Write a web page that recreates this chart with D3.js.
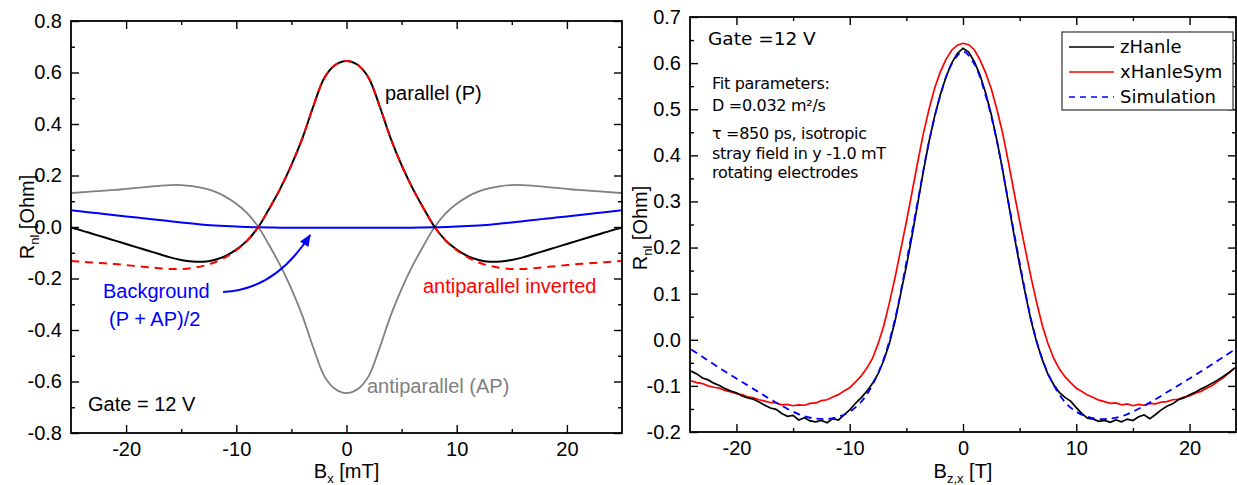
<!DOCTYPE html>
<html><head><meta charset="utf-8">
<script src="https://cdn.jsdelivr.net/npm/d3@7"></script>
<style>body{margin:0;background:#fff}</style>
</head><body>
<svg id="c" width="1237" height="485"></svg>
<script>
// ---------- Left panel data (B_x in mT) ----------
const leftB = [-25,-24,-23,-22,-21,-20,-19,-18,-17,-16,-15,-14,-13,-12,-11,-10,-9,-8,-7,-6,-5,-4,-3,-2,-1,0,1,2,3,4,5,6,7,8,9,10,11,12,13,14,15,16,17,18,19,20,21,22,23,24,25];
const parallelP = [-0.002,-0.014,-0.027,-0.040,-0.053,-0.066,-0.079,-0.092,-0.105,-0.118,-0.128,-0.134,-0.135,-0.128,-0.113,-0.088,-0.052,0.000,0.072,0.150,0.240,0.345,0.470,0.580,0.630,0.645,0.630,0.580,0.470,0.345,0.240,0.150,0.072,0.000,-0.052,-0.088,-0.113,-0.128,-0.135,-0.134,-0.128,-0.118,-0.105,-0.092,-0.079,-0.066,-0.053,-0.040,-0.027,-0.014,-0.002];
const antiparallelAP = [0.132,0.135,0.138,0.141,0.144,0.148,0.152,0.156,0.160,0.163,0.163,0.159,0.151,0.138,0.118,0.090,0.053,0.000,-0.072,-0.150,-0.240,-0.345,-0.470,-0.580,-0.630,-0.645,-0.630,-0.580,-0.470,-0.345,-0.240,-0.150,-0.072,0.000,0.053,0.090,0.118,0.138,0.151,0.159,0.163,0.163,0.160,0.156,0.152,0.148,0.144,0.141,0.138,0.135,0.132];
const antiparallelInverted = [-0.132,-0.135,-0.138,-0.141,-0.144,-0.148,-0.152,-0.156,-0.160,-0.163,-0.163,-0.159,-0.151,-0.138,-0.118,-0.090,-0.053,0.000,0.072,0.150,0.240,0.345,0.470,0.580,0.630,0.645,0.630,0.580,0.470,0.345,0.240,0.150,0.072,0.000,-0.053,-0.090,-0.118,-0.138,-0.151,-0.159,-0.163,-0.163,-0.160,-0.156,-0.152,-0.148,-0.144,-0.141,-0.138,-0.135,-0.132];
const background = [0.065,0.0605,0.0555,0.0505,0.0455,0.041,0.0365,0.032,0.0275,0.0225,0.0178,0.0132,0.0092,0.006,0.0035,0.0015,0.0002,-0.0012,-0.002,-0.0025,-0.003,-0.003,-0.003,-0.003,-0.003,-0.003,-0.003,-0.003,-0.003,-0.003,-0.003,-0.0025,-0.002,-0.0012,0.0002,0.0015,0.0035,0.006,0.0092,0.0132,0.0178,0.0225,0.0275,0.032,0.0365,0.041,0.0455,0.0505,0.0555,0.0605,0.065];
const leftXTicks = [-20,-10,0,10,20];
const leftXMinor = [-15,-5,5,15];
const leftYTicks = [-0.8,-0.6,-0.4,-0.2,0.0,0.2,0.4,0.6,0.8];
const leftYMinor = [-0.7,-0.5,-0.3,-0.1,0.1,0.3,0.5,0.7];

// ---------- Right panel data ----------
const rightB = [-24,-23.5,-23,-22.5,-22,-21.5,-21,-20.5,-20,-19.5,-19,-18.5,-18,-17.5,-17,-16.5,-16,-15.5,-15,-14.5,-14,-13.5,-13,-12.5,-12,-11.5,-11,-10.5,-10,-9.5,-9,-8.5,-8,-7.5,-7,-6.5,-6,-5.5,-5,-4.5,-4,-3.5,-3,-2.5,-2,-1.5,-1,-0.5,0,0.5,1,1.5,2,2.5,3,3.5,4,4.5,5,5.5,6,6.5,7,7.5,8,8.5,9,9.5,10,10.5,11,11.5,12,12.5,13,13.5,14,14.5,15,15.5,16,16.5,17,17.5,18,18.5,19,19.5,20,20.5,21,21.5,22,22.5,23,23.5,24];
const zHanle = [-0.068,-0.074,-0.083,-0.087,-0.094,-0.099,-0.106,-0.111,-0.115,-0.122,-0.126,-0.129,-0.135,-0.142,-0.148,-0.151,-0.160,-0.166,-0.164,-0.174,-0.169,-0.176,-0.178,-0.175,-0.180,-0.171,-0.174,-0.163,-0.152,-0.138,-0.126,-0.112,-0.095,-0.074,-0.045,-0.008,0.040,0.100,0.160,0.225,0.295,0.365,0.430,0.485,0.532,0.570,0.600,0.621,0.632,0.624,0.603,0.574,0.535,0.488,0.432,0.368,0.298,0.228,0.162,0.100,0.042,-0.005,-0.043,-0.075,-0.097,-0.114,-0.125,-0.133,-0.147,-0.160,-0.170,-0.172,-0.177,-0.175,-0.179,-0.174,-0.178,-0.172,-0.175,-0.167,-0.163,-0.171,-0.162,-0.152,-0.144,-0.139,-0.130,-0.126,-0.119,-0.114,-0.107,-0.101,-0.094,-0.087,-0.079,-0.071,-0.061];
const xHanleSym = [-0.089,-0.093,-0.095,-0.100,-0.103,-0.105,-0.110,-0.113,-0.117,-0.119,-0.124,-0.126,-0.130,-0.133,-0.136,-0.137,-0.141,-0.140,-0.143,-0.141,-0.142,-0.138,-0.137,-0.132,-0.130,-0.124,-0.119,-0.111,-0.104,-0.092,-0.079,-0.062,-0.041,-0.009,0.030,0.080,0.135,0.195,0.256,0.320,0.385,0.447,0.500,0.546,0.581,0.608,0.628,0.639,0.643,0.640,0.629,0.607,0.579,0.544,0.499,0.448,0.386,0.321,0.257,0.196,0.136,0.081,0.031,-0.008,-0.040,-0.063,-0.080,-0.093,-0.105,-0.112,-0.120,-0.125,-0.131,-0.134,-0.138,-0.137,-0.141,-0.139,-0.143,-0.140,-0.142,-0.138,-0.139,-0.135,-0.134,-0.130,-0.129,-0.124,-0.122,-0.116,-0.112,-0.105,-0.099,-0.090,-0.082,-0.071,-0.061];
const simB = [-24,-23,-22,-21,-20,-19,-18,-17,-16,-15,-14,-13,-12,-11,-10,-9,-8,-7,-6,-5,-4,-3,-2,-1,0,1,2,3,4,5,6,7,8,9,10,11,12,13,14,15,16,17,18,19,20,21,22,23,24];
const simulation = [-0.021,-0.037,-0.053,-0.069,-0.084,-0.099,-0.114,-0.129,-0.143,-0.156,-0.166,-0.171,-0.172,-0.167,-0.156,-0.135,-0.098,-0.042,0.045,0.168,0.300,0.430,0.530,0.598,0.625,0.598,0.530,0.430,0.300,0.168,0.045,-0.042,-0.098,-0.135,-0.156,-0.167,-0.172,-0.171,-0.166,-0.156,-0.143,-0.129,-0.114,-0.099,-0.084,-0.069,-0.053,-0.037,-0.021];
const rightXTicks = [-20,-10,0,10,20];
const rightXMinor = [-15,-5,5,15];
const rightYTicks = [-0.2,-0.1,0.0,0.1,0.2,0.3,0.4,0.5,0.6,0.7];
const rightYMinor = [-0.15,-0.05,0.05,0.15,0.25,0.35,0.45,0.55,0.65];
const legendLabels = ["zHanle","xHanleSym","Simulation"];

// ---------- drawing ----------
const svg = d3.select("#c");
svg.append("rect").attr("width",1237).attr("height",485).attr("fill","#fff");
const ARIAL = "'Liberation Sans', Arial, sans-serif";
const DEJAVU = "'DejaVu Sans', sans-serif";

function frame(g, x, y, xMaj, xMin, yMaj, yMin) {
  const [x0,x1] = x.range(), [y0,y1] = y.range();
  const style = sel => { sel.select(".domain").remove(); sel.selectAll("line").attr("stroke","#000").attr("stroke-width",1.4);
    sel.selectAll("text").attr("font-family",ARIAL).attr("font-size",20).attr("fill","#000"); };
  g.append("g").attr("transform",`translate(0,${y0})`).call(d3.axisBottom(x).tickValues(xMaj).tickSize(-8).tickPadding(9).tickFormat(d=>String(d))).call(style);
  g.append("g").attr("transform",`translate(0,${y0})`).call(d3.axisBottom(x).tickValues(xMin).tickSize(-4).tickFormat("")).call(style);
  g.append("g").attr("transform",`translate(0,${y1})`).call(d3.axisTop(x).tickValues(xMaj).tickSize(-8).tickFormat("")).call(style);
  g.append("g").attr("transform",`translate(0,${y1})`).call(d3.axisTop(x).tickValues(xMin).tickSize(-4).tickFormat("")).call(style);
  g.append("g").attr("transform",`translate(${x0},0)`).call(d3.axisLeft(y).tickValues(yMaj).tickSize(-8).tickPadding(9).tickFormat(d=>d.toFixed(1))).call(style);
  g.append("g").attr("transform",`translate(${x0},0)`).call(d3.axisLeft(y).tickValues(yMin).tickSize(-4).tickFormat("")).call(style);
  g.append("g").attr("transform",`translate(${x1},0)`).call(d3.axisRight(y).tickValues(yMaj).tickSize(-8).tickFormat("")).call(style);
  g.append("g").attr("transform",`translate(${x1},0)`).call(d3.axisRight(y).tickValues(yMin).tickSize(-4).tickFormat("")).call(style);
  g.append("rect").attr("x",x0).attr("y",y1).attr("width",x1-x0).attr("height",y0-y1)
    .attr("fill","none").attr("stroke","#000").attr("stroke-width",1.8);
}

function ytitle(g, cx, cy) {
  const t = g.append("text").attr("transform",`translate(${cx},${cy}) rotate(-90)`)
    .attr("text-anchor","middle").attr("font-family",ARIAL).attr("font-size",20);
  t.append("tspan").text("R");
  t.append("tspan").attr("font-size",13).attr("dy",5).text("nl");
  t.append("tspan").attr("dy",-5).text(" [Ohm]");
}

// ----- Left panel -----
const xL = d3.scaleLinear().domain([-25,25]).range([71,622]);
const yL = d3.scaleLinear().domain([-0.8,0.8]).range([433,21]);
const gL = svg.append("g");
const lineL = ys => d3.line().x((d,i)=>xL(leftB[i])).y(d=>yL(d)).curve(d3.curveCatmullRom)(ys);
gL.append("path").attr("d",lineL(antiparallelAP)).attr("fill","none").attr("stroke","#808080").attr("stroke-width",1.8);
gL.append("path").attr("d",lineL(background)).attr("fill","none").attr("stroke","#0000ff").attr("stroke-width",2);
gL.append("path").attr("d",lineL(parallelP)).attr("fill","none").attr("stroke","#000").attr("stroke-width",2);
gL.append("path").attr("d",lineL(antiparallelInverted)).attr("fill","none").attr("stroke","#ff0000").attr("stroke-width",2).attr("stroke-dasharray","8,6");
frame(gL, xL, yL, leftXTicks, leftXMinor, leftYTicks, leftYMinor);
ytitle(gL, 34, 217);
const bx = gL.append("text").attr("x",xL(0)).attr("y",478).attr("text-anchor","middle").attr("font-family",ARIAL).attr("font-size",20);
bx.append("tspan").text("B");
bx.append("tspan").attr("font-size",13).attr("dy",5).text("x");
bx.append("tspan").attr("dy",-5).text(" [mT]");

// annotations
const ann = (g,x,y,txt,col,fam,size) => g.append("text").attr("x",x).attr("y",y).attr("font-family",fam).attr("font-size",size).attr("fill",col).text(txt);
ann(gL,385,100,"parallel (P)","#000",ARIAL,20);
ann(gL,103,298,"Background","#0000ff",ARIAL,20);
ann(gL,109,326,"(P + AP)/2","#0000ff",ARIAL,20);
ann(gL,423,293,"antiparallel inverted","#ff0000",ARIAL,20);
ann(gL,367,393,"antiparallel (AP)","#808080",ARIAL,20);
ann(gL,88,411,"Gate = 12 V","#000",ARIAL,20);
// arrow
svg.append("defs").append("marker").attr("id","ah").attr("viewBox","0 0 12 10").attr("refX",11).attr("refY",5)
  .attr("markerWidth",13).attr("markerHeight",10).attr("markerUnits","userSpaceOnUse").attr("orient","auto")
  .append("path").attr("d","M0,0 L12,5 L0,10 Z").attr("fill","#0000ff");
const ap = d3.path();
ap.moveTo(xL(-11.2), yL(-0.252));
ap.quadraticCurveTo(xL(-6.5), yL(-0.245), xL(-3.3), yL(-0.031));
gL.append("path").attr("d",ap.toString()).attr("fill","none").attr("stroke","#0000ff").attr("stroke-width",2).attr("marker-end","url(#ah)");

// ----- Right panel -----
const xR = d3.scaleLinear().domain([-24.1,24.1]).range([690,1236]);
const yR = d3.scaleLinear().domain([-0.2,0.7]).range([432,17]);
const gR = svg.append("g");
svg.select("defs").append("clipPath").attr("id","cr").append("rect").attr("x",690).attr("y",17).attr("width",546).attr("height",415);
const gRD = gR.append("g").attr("clip-path","url(#cr)");
const lineR = ys => d3.line().x((d,i)=>xR(rightB[i])).y(d=>yR(d))(ys);
gRD.append("path").attr("d",lineR(xHanleSym)).attr("fill","none").attr("stroke","#ff0000").attr("stroke-width",1.7);
gRD.append("path").attr("d",lineR(zHanle)).attr("fill","none").attr("stroke","#000").attr("stroke-width",1.7);
gRD.append("path").attr("d",d3.line().x((d,i)=>xR(simB[i])).y(d=>yR(d)).curve(d3.curveCatmullRom)(simulation))
  .attr("fill","none").attr("stroke","#0000ff").attr("stroke-width",1.8).attr("stroke-dasharray","7,5");
frame(gR, xR, yR, rightXTicks, rightXMinor, rightYTicks, rightYMinor);
ytitle(gR, 647, 228);
const bz = gR.append("text").attr("x",xR(0)).attr("y",478).attr("text-anchor","middle").attr("font-family",ARIAL).attr("font-size",20);
bz.append("tspan").text("B");
bz.append("tspan").attr("font-size",13).attr("dy",5).text("z,x");
bz.append("tspan").attr("dy",-5).text(" [T]");

ann(gR,708,45,"Gate =12 V","#000",DEJAVU,18.5);
const fitLines = [["Fit parameters:",89],["D =0.032 m²/s",111],["τ =850 ps, isotropic",139],["stray field in y -1.0 mT",159],["rotating electrodes",178]];
fitLines.forEach(([t,y]) => ann(gR,712,y,t,"#000",DEJAVU,16).attr("letter-spacing","-0.3"));

// legend
const lg = gR.append("g");
lg.append("rect").attr("x",1062).attr("y",32).attr("width",171).attr("height",78).attr("fill","#fff").attr("stroke","#333").attr("stroke-width",1.2);
const lcol = ["#000","#ff0000","#0000ff"], ldash = [null,null,"6,5"];
legendLabels.forEach((l,i) => {
  const y = 47 + i*25;
  lg.append("line").attr("x1",1069).attr("x2",1114).attr("y1",y).attr("y2",y).attr("stroke",lcol[i]).attr("stroke-width",1.7).attr("stroke-dasharray",ldash[i]);
  lg.append("text").attr("x",1120).attr("y",y+6).attr("font-family",DEJAVU).attr("font-size",18).text(l);
});
</script>
</body></html>
